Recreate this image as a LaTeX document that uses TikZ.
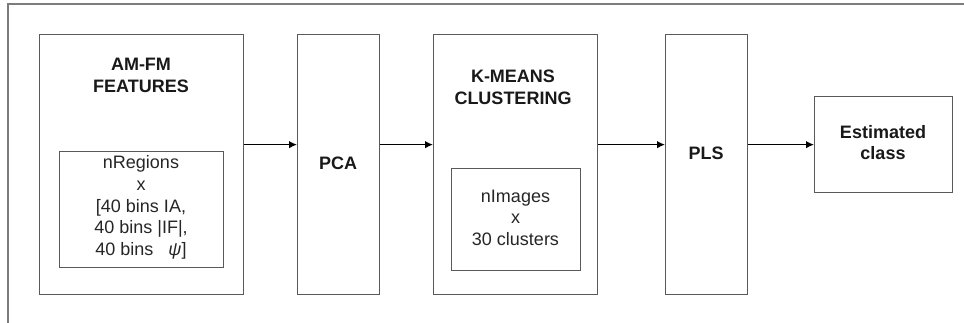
\documentclass[tikz,border=0pt]{standalone}
\usepackage{fontspec}
\setmainfont{Liberation Sans}
\usetikzlibrary{arrows.meta}
\definecolor{boxgray}{HTML}{5A5A5A}
\definecolor{framegray}{HTML}{7C7C7C}
\begin{document}
\begin{tikzpicture}[x=1pt,y=-1pt,
  box/.style={draw=boxgray, line width=1.3pt, rectangle, inner sep=0pt, anchor=north west, fill=white},
  lbl/.style={font=\fontsize{18}{21.6}\selectfont, align=center, inner sep=0pt, text=black!85},
  blbl/.style={font=\fontsize{18}{21.6}\selectfont\bfseries, align=center, inner sep=0pt, text=black!90},
  frame/.style={draw=framegray, line width=1.8pt},
  conn/.style={draw=black, line width=1.3pt, -{Latex[length=8pt,width=7.5pt]}}]
\useasboundingbox (0,0) rectangle (964,323);
% outer frame (partial)
\coordinate (fb) at (8,323);
\coordinate (fc) at (8,4);
\coordinate (fr) at (964,4);
\draw[frame] (fb) -- (fc) -- (fr);
% boxes
\node[box, minimum width=204pt, minimum height=260pt] (amfm) at (39,34) {};
\node[box, minimum width=164pt, minimum height=116pt] (amfmin) at (59,151) {};
\node[box, minimum width=82pt, minimum height=260pt] (pca) at (297,34) {};
\node[box, minimum width=164pt, minimum height=260pt] (km) at (433,34) {};
\node[box, minimum width=129pt, minimum height=102pt] (kmin) at (451,168) {};
\node[box, minimum width=82pt, minimum height=260pt] (pls) at (665,34) {};
\node[box, minimum width=138pt, minimum height=96pt] (est) at (814,96) {};
% texts
\node[blbl] (tamfm) at (141,75.2) {AM-FM\\FEATURES};
\node[lbl] (tamfmin) at (141,207.5) {nRegions\\x\\{[}40 bins IA,\\40 bins |IF|,\\40 bins \ \ {\itshape ψ}]};
\node[blbl] (tpca) at (338,163) {PCA};
\node[blbl] (tkm) at (513,87.5) {K-MEANS\\CLUSTERING};
\node[lbl] (tkmin) at (515.5,217.5) {nImages\\x\\30 clusters};
\node[blbl] (tpls) at (706,153) {PLS};
\node[blbl] (test) at (883,142.5) {Estimated\\class};
% connectors
\draw[conn] ([yshift=20pt]amfm.east) -- ([yshift=20pt]pca.west);
\draw[conn] ([yshift=20pt]pca.east) -- ([yshift=20pt]km.west);
\draw[conn] ([yshift=20pt]km.east) -- ([yshift=20pt]pls.west);
\draw[conn] ([yshift=20pt]pls.east) -- (est.west);
\end{tikzpicture}
\end{document}
